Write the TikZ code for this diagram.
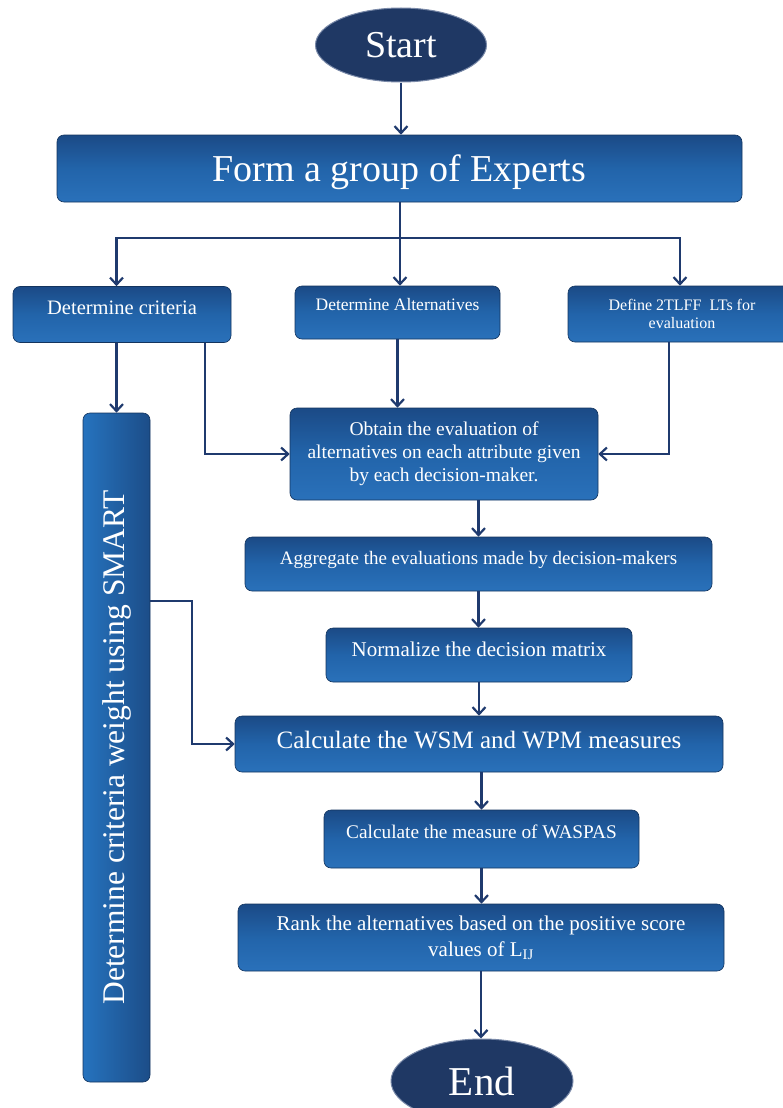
\documentclass[tikz,border=0pt]{standalone}
\usepackage{fontspec}
\usepackage{graphicx}
\setmainfont{Liberation Serif}
\usetikzlibrary{shapes.geometric,arrows.meta}

\definecolor{navy}{HTML}{1F3A6E}
\definecolor{boxtop}{HTML}{1B4A86}
\definecolor{boxmid}{HTML}{2264AA}
\definecolor{boxbot}{HTML}{2A71BA}
\definecolor{barlight}{HTML}{2673BE}
\definecolor{bardark}{HTML}{1C4D88}
\definecolor{ovalfill}{HTML}{1F3864}

\begin{document}
\begin{tikzpicture}[x=1pt, y=-1pt]
    \tikzstyle{box_style} = [rectangle, rounded corners=7pt, draw=boxtop!70!black, line width=0.6pt, top color=boxtop, bottom color=boxbot, middle color=boxmid, text=white, inner sep=0pt, align=center]
    \tikzstyle{bar_style} = [rectangle, rounded corners=7pt, draw=boxtop!70!black, line width=0.6pt, left color=barlight, right color=bardark, text=white, inner sep=0pt]
    \tikzstyle{oval_style} = [ellipse, draw=navy!60!white, line width=1pt, fill=ovalfill, text=white, inner sep=0pt]
    \tikzstyle{arrow_style} = [->, navy, line width=2.2, >={Straight Barb[length=7pt, width=13pt]}]
    \tikzstyle{line_style} = [navy, line width=2.2]

    \useasboundingbox (0,0) rectangle (782,1108);

    \node[oval_style, minimum width=171pt, minimum height=74pt, font=\fontsize{38}{44}\selectfont] (start) at (401,45) {Start};
    \node[box_style, minimum width=685pt, minimum height=67pt, font=\fontsize{38}{44}\selectfont, text height=26pt, text depth=1pt] (form) at (399.5,168.5) {Form a group of Experts};

    \node[box_style, minimum width=218pt, minimum height=56pt, font=\fontsize{20.5}{24}\selectfont, text height=14.4pt, text depth=15pt] (crit) at (122,314.5) {Determine criteria};
    \node[box_style, minimum width=205pt, minimum height=53pt, font=\fontsize{17.5}{21}\selectfont, text height=12.3pt, text depth=15.7pt] (alt) at (397.5,312.5) {Determine Alternatives};
    \node[box_style, minimum width=228pt, minimum height=56pt, font=\fontsize{16}{18}\selectfont] (lts) at (682,314) {Define 2TLFF\ \ LTs for\\evaluation};

    \node[box_style, minimum width=308pt, minimum height=92pt, font=\fontsize{19.5}{23}\selectfont] (obtain) at (444,454) {Obtain the evaluation of\\alternatives on each attribute given\\by each decision-maker.};
    \node[bar_style, minimum width=67pt, minimum height=669pt, font=\fontsize{31.5}{36}\selectfont] (smart) at (116.5,747.5) {\rotatebox{90}{Determine criteria weight using SMART}};

    \node[box_style, minimum width=467pt, minimum height=54pt, font=\fontsize{19}{23}\selectfont, text height=13.3pt, text depth=12.8pt] (agg) at (478.5,564) {Aggregate the evaluations made by decision-makers};
    \node[box_style, minimum width=306pt, minimum height=54pt, font=\fontsize{21}{25}\selectfont, text height=14.7pt, text depth=10.8pt] (norm) at (479,655) {Normalize the decision matrix};
    \node[box_style, minimum width=488pt, minimum height=56pt, font=\fontsize{25}{30}\selectfont, text height=17.5pt, text depth=8pt] (wsm) at (479,744) {Calculate the WSM and WPM measures};
    \node[box_style, minimum width=315pt, minimum height=58pt, font=\fontsize{19.3}{23}\selectfont, text height=13.5pt, text depth=14.8pt] (wasp) at (481.5,839) {Calculate the measure of WASPAS};
    \node[box_style, minimum width=486pt, minimum height=67pt, font=\fontsize{21}{26}\selectfont] (rank) at (481,937.5) {Rank the alternatives based on the positive score\\values of L\textsubscript{IJ}};
    \node[oval_style, minimum width=182pt, minimum height=84pt, font=\fontsize{41}{46}\selectfont] (finish) at (482,1081) {End};

    \coordinate (split) at (400,238);
    \coordinate (bend) at (192,601);

    \draw[arrow_style] (start) -- (start |- form.north);
    \draw[line_style] (form.south -| split) -- (split);
    \draw[arrow_style] (split) -| (smart.north |- crit.north);
    \draw[arrow_style] (split) -- (split |- alt.north);
    \draw[arrow_style] (split) -| ([xshift=-2pt]lts.north);

    \draw[arrow_style] (crit.south -| smart) -- (smart.north);
    \draw[arrow_style] ([xshift=83pt]crit.south) |- (obtain.west);
    \draw[arrow_style] (alt.south) -- (alt.south |- obtain.north);
    \draw[arrow_style] ([xshift=-13pt]lts.south) |- (obtain.east);

    \draw[arrow_style] (agg.north |- obtain.south) -- (agg.north);
    \draw[arrow_style] (agg.south) -- (agg.south |- norm.north);
    \draw[arrow_style] (norm.south) -- (norm.south |- wsm.north);
    \draw[arrow_style] (smart.east |- bend) -- (bend) |- (wsm.west);
    \draw[arrow_style] (wsm.south -| wasp) -- (wasp.north);
    \draw[arrow_style] (wasp.south) -- (wasp.south |- rank.north);
    \draw[arrow_style] (rank.south) -- (rank.south |- finish.north);
\end{tikzpicture}
\end{document}
